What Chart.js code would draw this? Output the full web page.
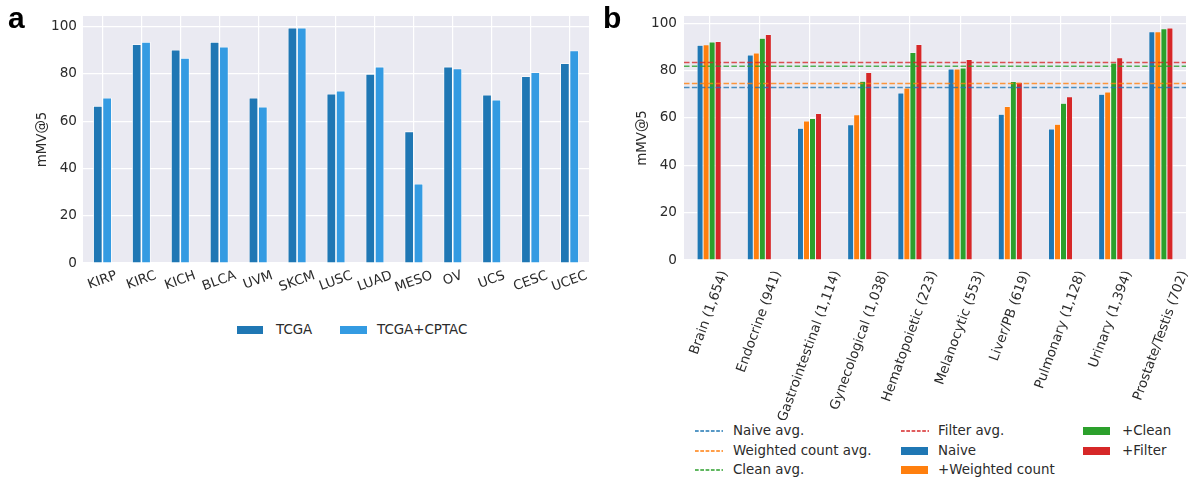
<!DOCTYPE html>
<html><head><meta charset="utf-8">
<script src="https://cdn.jsdelivr.net/npm/chart.js@4.4.1/dist/chart.umd.min.js"></script>
<style>
body{margin:0;background:#fff;width:1191px;height:481px;overflow:hidden;position:relative;font-family:'DejaVu Sans',sans-serif;color:#333}
#wa{position:absolute;left:0;top:0;width:600px;height:300px}
#wb{position:absolute;left:600px;top:0;width:591px;height:420px}
.pl{position:absolute;font-family:'Liberation Sans',Arial,sans-serif;font-weight:bold;font-size:30px;color:#000;line-height:1}
.lg{position:absolute;font-size:13.4px;height:16px;line-height:16px;white-space:nowrap;color:#2b2b2b}
.sw{position:absolute;height:8px}
</style></head>
<body>
<div id="wa"><canvas id="ca" width="600" height="300"></canvas></div>
<div id="wb"><canvas id="cb" width="591" height="420"></canvas></div>
<div class="pl" style="left:8px;top:3px">a</div>
<div class="pl" style="left:603px;top:3px">b</div>
<div id="legs"></div>
<script>
// ---- Panel a data ----
const cancerTypes = ['KIRP','KIRC','KICH','BLCA','UVM','SKCM','LUSC','LUAD','MESO','OV','UCS','CESC','UCEC'];
const tcgaValues = [66.4, 92.6, 90.2, 93.5, 69.9, 99.6, 71.6, 80.0, 55.7, 83.1, 71.2, 79.0, 84.5];
const tcgaCptacValues = [69.9, 93.5, 86.7, 91.5, 66.1, 99.6, 72.9, 83.1, 33.5, 82.3, 69.1, 80.7, 89.9];
const seriesNamesA = ['TCGA', 'TCGA+CPTAC'];

// ---- Panel b data ----
const tissueGroups = ['Brain (1,654)','Endocrine (941)','Gastrointestinal (1,114)','Gynecological (1,038)','Hematopoietic (223)','Melanocytic (553)','Liver/PB (619)','Pulmonary (1,128)','Urinary (1,394)','Prostate/Testis (702)'];
const naiveValues = [90.6, 86.5, 55.6, 57.1, 70.5, 80.6, 61.5, 55.3, 70.0, 96.3];
const weightedValues = [90.9, 87.4, 58.7, 61.3, 72.6, 80.6, 64.8, 57.3, 70.9, 96.3];
const cleanValues = [92.0, 93.6, 59.7, 75.5, 87.6, 81.0, 75.4, 66.2, 83.2, 97.6];
const filterValues = [92.2, 95.2, 61.8, 79.2, 91.0, 84.6, 75.0, 68.9, 85.4, 97.9];
const averageValues = [72.8, 74.5, 81.8, 83.4]; // Naive, Weighted count, Clean, Filter
const averageNames = ['Naive avg.', 'Weighted count avg.', 'Clean avg.', 'Filter avg.'];
const barNamesB = ['Naive', '+Weighted count', '+Clean', '+Filter'];
const yTicks = [0, 20, 40, 60, 80, 100];

const tab = ['#1f77b4', '#ff7f0e', '#2ca02c', '#d62728'];
const tabAlpha = ['rgba(31,119,180,0.8)', 'rgba(255,127,14,0.8)', 'rgba(44,160,44,0.8)', 'rgba(214,39,40,0.8)'];
const txt = '#2b2b2b';

const deco = {
  id: 'deco',
  beforeDraw(chart, args, o) {
    const {ctx, chartArea: a} = chart;
    ctx.save(); ctx.fillStyle = o.bg;
    ctx.fillRect(a.left, a.top, a.right - a.left, a.bottom - a.top);
    ctx.restore();
  },
  afterDatasetsDraw(chart, args, o) {
    if (!o.avg) return;
    const {ctx, chartArea: a} = chart; const sy = chart.scales.y;
    ctx.save();
    ctx.lineWidth = 1.5; ctx.setLineDash([5.5, 2.4]);
    o.avg.forEach((v, i) => {
      const y = sy.getPixelForValue(v);
      ctx.strokeStyle = o.avgColors[i];
      ctx.beginPath(); ctx.moveTo(a.left, y); ctx.lineTo(a.right, y); ctx.stroke();
    });
    ctx.restore();
  },
  afterDraw(chart, args, o) {
    const {ctx, chartArea: a} = chart; const sx = chart.scales.x;
    ctx.save();
    ctx.fillStyle = o.color; ctx.font = o.fontSize + 'px "DejaVu Sans"';
    ctx.textAlign = 'center'; ctx.textBaseline = 'middle';
    const th = o.rot * Math.PI / 180, h = o.fontSize;
    chart.data.labels.forEach((lab, i) => {
      const w = ctx.measureText(lab).width;
      const x = sx.getPixelForTick(i);
      const y = a.bottom + o.pad + (w / 2) * Math.sin(th) + (h / 2) * Math.cos(th);
      ctx.save(); ctx.translate(x, y); ctx.rotate(-th); ctx.fillText(lab, 0, 0); ctx.restore();
    });
    ctx.font = '13.4px "DejaVu Sans"';
    ctx.save(); ctx.translate(o.titleX, (a.top + a.bottom) / 2); ctx.rotate(-Math.PI / 2);
    ctx.fillText(o.title, 0, 0); ctx.restore();
    ctx.restore();
  }
};

function yScale(max, width, pad) {
  return {
    min: 0, max: max,
    afterFit(s) { s.width = width; },
    afterBuildTicks(s) { s.ticks = yTicks.map(v => ({value: v})); },
    border: {display: false},
    grid: {color: '#ffffff', lineWidth: 1.2, drawTicks: false},
    ticks: {color: txt, font: {family: 'DejaVu Sans', size: 13.6}, padding: pad}
  };
}

new Chart(document.getElementById('ca'), {
  type: 'bar',
  data: {
    labels: cancerTypes,
    datasets: [
      {label: seriesNamesA[0], data: tcgaValues, backgroundColor: '#1f77b4', borderColor: '#ffffff', borderWidth: 0.8, categoryPercentage: 0.48, barPercentage: 1.0},
      {label: seriesNamesA[1], data: tcgaCptacValues, backgroundColor: '#349be2', borderColor: '#ffffff', borderWidth: 0.8, categoryPercentage: 0.48, barPercentage: 1.0}
    ]
  },
  options: {
    responsive: false, animation: false,
    layout: {padding: {left: 0, right: 11, top: 16, bottom: 0}},
    plugins: {legend: {display: false}, tooltip: {enabled: false},
      deco: {bg: '#eaeaf2', color: txt, fontSize: 13.3, rot: 20, pad: 6, title: 'mMV@5', titleX: 43}},
    scales: {
      x: {afterFit(s) { s.height = 37; }, border: {display: false},
          grid: {color: '#ffffff', lineWidth: 1.2, offset: false, drawTicks: false},
          ticks: {display: false}},
      y: yScale(104.5, 83, 6)
    }
  },
  plugins: [deco]
});

const barSetsB = [naiveValues, weightedValues, cleanValues, filterValues].map((d, i) => ({
  label: barNamesB[i], data: d, backgroundColor: tab[i], borderColor: '#ffffff', borderWidth: 0.5,
  categoryPercentage: 0.48, barPercentage: 1.0
}));

new Chart(document.getElementById('cb'), {
  type: 'bar',
  data: {labels: tissueGroups, datasets: barSetsB},
  options: {
    responsive: false, animation: false,
    layout: {padding: {left: 0, right: 5, top: 16, bottom: 0}},
    plugins: {legend: {display: false}, tooltip: {enabled: false},
      deco: {bg: '#eaeaf2', color: txt, fontSize: 13.4, rot: 70, pad: 9, title: 'mMV@5', titleX: 43,
             avg: averageValues, avgColors: tabAlpha}},
    scales: {
      x: {afterFit(s) { s.height = 160; }, border: {display: false},
          grid: {color: '#ffffff', lineWidth: 1.2, offset: false, drawTicks: false},
          ticks: {display: false}},
      y: yScale(103, 84, 7)
    }
  },
  plugins: [deco]
});

// ---- HTML legends ----
const legs = document.getElementById('legs');
function addSwatch(x, cy, w, color) {
  const d = document.createElement('div'); d.className = 'sw';
  d.style.left = x + 'px'; d.style.top = (cy - 4) + 'px'; d.style.width = w + 'px'; d.style.background = color;
  legs.appendChild(d);
}
function addDash(x, cy, w, color) {
  const ns = 'http://www.w3.org/2000/svg';
  const s = document.createElementNS(ns, 'svg');
  s.setAttribute('width', w); s.setAttribute('height', 4);
  s.style.position = 'absolute'; s.style.left = x + 'px'; s.style.top = (cy - 2) + 'px';
  const l = document.createElementNS(ns, 'line');
  l.setAttribute('x1', 0); l.setAttribute('x2', w); l.setAttribute('y1', 2); l.setAttribute('y2', 2);
  l.setAttribute('stroke', color); l.setAttribute('stroke-width', 1.4); l.setAttribute('stroke-dasharray', '3.7 1.6');
  s.appendChild(l); legs.appendChild(s);
}
function addText(x, cy, t) {
  const d = document.createElement('div'); d.className = 'lg';
  d.style.left = x + 'px'; d.style.top = (cy - 8) + 'px'; d.textContent = t;
  legs.appendChild(d);
}
// panel a legend
addSwatch(237, 330, 26, '#1f77b4'); addText(276, 330, seriesNamesA[0]);
addSwatch(340, 330, 27, '#349be2'); addText(377, 330, seriesNamesA[1]);
// panel b legend (column-major, 3 columns)
const rowsY = [431, 450.5, 470];
const itemsB = [
  {kind: 'dash', label: averageNames[0], color: tab[0]},
  {kind: 'dash', label: averageNames[1], color: tab[1]},
  {kind: 'dash', label: averageNames[2], color: tab[2]},
  {kind: 'dash', label: averageNames[3], color: tab[3]},
  {kind: 'box', label: barNamesB[0], color: tab[0]},
  {kind: 'box', label: barNamesB[1], color: tab[1]},
  {kind: 'box', label: barNamesB[2], color: tab[2]},
  {kind: 'box', label: barNamesB[3], color: tab[3]}
];
const colX = [{s: 695, t: 733}, {s: 901, t: 938}, {s: 1083, t: 1122}];
itemsB.forEach((it, k) => {
  const c = colX[Math.floor(k / 3)], cy = rowsY[k % 3];
  if (it.kind === 'dash') addDash(c.s, cy, 28, it.color); else addSwatch(c.s, cy, 27, it.color);
  addText(c.t, cy, it.label);
});
</script>
</body></html>
